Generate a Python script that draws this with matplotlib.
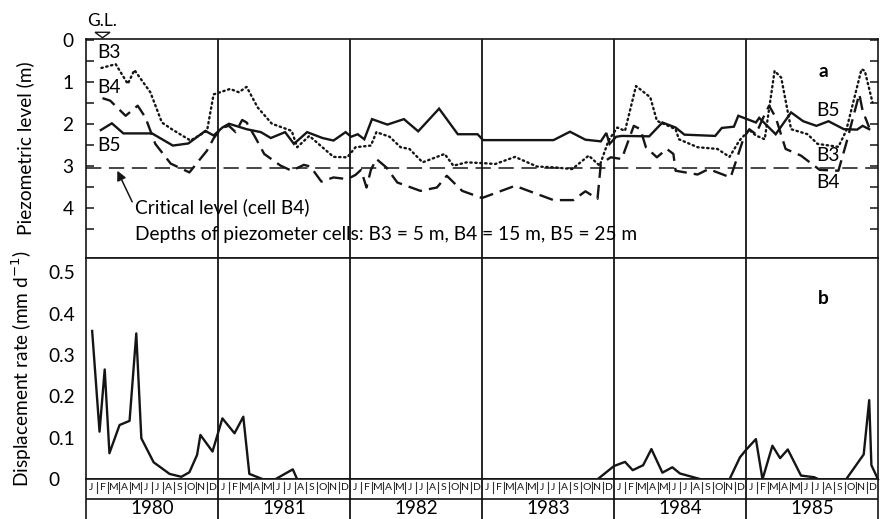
import numpy as np
import matplotlib
matplotlib.use('Agg')
from matplotlib import pyplot as plt

plt.rcParams['font.family'] = ['Lato', 'DejaVu Sans']
plt.rcParams['font.size'] = 13.8

# time axis: months since Jan 1980
years = [1980, 1981, 1982, 1983, 1984, 1985]
months = ['J', 'F', 'M', 'A', 'M', 'J', 'J', 'A', 'S', 'O', 'N', 'D']

# piezometric level (m below ground), cell B3
b3_t = [1.4, 2.7, 3.8, 4.4, 5.85, 6.9, 7.8, 9.5, 11.0, 11.6, 13.1, 13.9, 14.6, 15.6, 16.9,
        18.7, 19.2, 20.3, 22.5, 23.75, 24.5, 25.9, 26.4, 27.6, 28.6, 29.4, 30.6, 32.6, 33.4,
        34.6, 36.2, 37.2, 39.0, 41.0, 42.6, 44.2, 45.7, 46.7, 47.5, 48.3, 49.0, 50.0, 51.3,
        51.9, 53.6, 53.9, 55.6, 57.4, 58.5, 59.4, 60.3, 60.9, 61.7, 62.6, 63.2, 64.1, 65.6,
        66.5, 68.4, 69.1, 70.5, 70.8, 71.5]
b3_d = [0.67, 0.58, 1.05, 0.72, 1.25, 1.97, 2.13, 2.4, 2.17, 1.3, 1.17, 1.25, 1.12, 1.61, 2.0,
        2.17, 2.56, 2.29, 2.79, 2.8, 2.56, 2.52, 2.2, 2.31, 2.56, 2.6, 2.92, 2.72, 3.0,
        2.92, 2.94, 2.96, 2.79, 3.02, 3.04, 3.08, 2.76, 3.0, 2.4, 2.09, 2.17, 1.1, 1.37,
        1.93, 2.13, 2.37, 2.56, 2.6, 2.79, 2.4, 2.15, 2.28, 2.37, 0.74, 0.9, 2.13, 2.25,
        2.48, 2.55, 2.17, 0.7, 0.74, 1.49]

# cell B4
b4_t = [1.5, 2.2, 3.6, 4.7, 5.4, 6.3, 7.7, 9.4, 11.0, 11.6, 12.3, 13.0, 13.6, 14.2, 14.6,
        15.4, 16.2, 17.7, 18.7, 19.8, 20.4, 21.4, 22.5, 23.75, 24.5, 25.0, 25.5, 25.9, 26.4,
        27.3, 28.3, 30.4, 31.9, 32.8, 34.2, 36.0, 39.0, 42.5, 44.3, 45.4, 46.5, 46.8, 47.7,
        48.7, 49.8, 50.4, 50.9, 51.9, 52.8, 53.4, 53.6, 55.6, 56.6, 58.6, 59.8, 60.3, 60.9,
        61.5, 62.1, 62.7, 63.6, 65.0, 66.2, 66.7, 68.4, 69.1, 70.3, 70.6, 71.2]
b4_d = [1.39, 1.45, 1.81, 1.57, 1.85, 2.48, 2.95, 3.16, 2.64, 2.35, 2.1, 2.05, 2.2, 1.91, 1.97,
        2.33, 2.72, 3.0, 3.12, 2.98, 3.02, 3.38, 3.28, 3.32, 3.22, 3.1, 3.52, 3.1, 2.84,
        3.04, 3.4, 3.6, 3.52, 3.24, 3.6, 3.77, 3.48, 3.82, 3.82, 3.61, 3.79, 2.96, 2.8,
        2.84, 2.05, 2.13, 2.56, 2.8, 2.6, 2.72, 3.12, 3.21, 3.08, 3.28, 2.33, 2.13, 2.25,
        1.89, 1.57, 1.85, 2.6, 2.76, 3.0, 3.1, 3.12, 2.48, 1.29, 1.69, 2.09]

# cell B5
b5_t = [1.35, 2.35, 3.4, 6.0, 7.9, 9.3, 10.85, 11.6, 12.4, 13.0, 14.6, 15.9, 16.8, 18.1, 18.9,
        20.1, 21.5, 22.5, 23.6, 24.1, 24.7, 25.3, 26.0, 27.4, 28.9, 30.2, 32.1, 33.8, 35.6,
        36.1, 42.5, 44.0, 45.4, 46.8, 47.3, 47.6, 48.2, 48.7, 51.2, 52.4, 53.6, 54.4, 57.2,
        57.8, 58.9, 59.3, 60.0, 60.9, 61.2, 62.7, 64.1, 65.2, 66.4, 67.5, 68.9, 70.1, 70.6,
        71.2]
b5_d = [2.15, 1.99, 2.23, 2.23, 2.52, 2.47, 2.17, 2.28, 2.09, 2.0, 2.13, 2.2, 2.34, 2.2, 2.48,
        2.2, 2.34, 2.4, 2.2, 2.31, 2.25, 2.37, 1.89, 2.02, 1.89, 2.18, 1.64, 2.25, 2.25,
        2.39, 2.39, 2.19, 2.38, 2.42, 2.22, 2.48, 2.31, 2.29, 2.3, 1.97, 2.09, 2.26, 2.29,
        2.1, 2.07, 1.81, 1.88, 1.97, 1.86, 2.25, 1.73, 1.94, 2.05, 1.94, 2.13, 2.14, 2.05,
        2.13]

critical_level = 3.05

# displacement rate (mm/d)
rate_t = [0.56, 1.23, 1.7, 2.13, 3.05, 3.96, 4.57, 5.03, 6.15, 7.6, 8.67, 9.4, 10.1, 10.4,
          11.5, 12.4, 13.5, 14.3, 14.85, 16.1, 17.2, 18.8, 19.2, 46.5, 48.0, 49.0, 49.7,
          50.65, 51.4, 52.4, 53.3, 54.0, 55.9, 58.5, 59.45, 60.0, 60.9, 61.5, 62.4, 63.1,
          63.8, 65.0, 66.2, 66.6, 69.1, 70.7, 71.2, 71.4, 72.0]
rate_v = [0.358, 0.115, 0.265, 0.063, 0.131, 0.141, 0.352, 0.099, 0.041, 0.013, 0.006, 0.017,
          0.059, 0.107, 0.067, 0.147, 0.111, 0.151, 0.013, 0.0, 0.0, 0.024, 0.0, 0.0, 0.032,
          0.042, 0.022, 0.034, 0.073, 0.016, 0.029, 0.014, 0.0, 0.0, 0.053, 0.071, 0.097,
          0.0, 0.081, 0.051, 0.072, 0.009, 0.005, 0.0, 0.0, 0.06, 0.191, 0.034, 0.0]

INK = '#151515'
W, H = 882, 519
fig = plt.figure(figsize=(W / 100, H / 100), dpi=100)

x0, x1 = 86, 878
def box(top, bottom):
    return [x0 / W, 1 - bottom / H, (x1 - x0) / W, (bottom - top) / H]

ax_a = fig.add_axes(box(39, 258))
ax_b = fig.add_axes(box(258, 479.3))
ax_m = fig.add_axes(box(479.3, 519))

n_months = 12 * len(years)
for ax in (ax_a, ax_b, ax_m):
    ax.set_xlim(0, n_months)
    ax.set_xticks([])
    for s in ax.spines.values():
        s.set_linewidth(1.2)
        s.set_color(INK)
    for k in range(1, len(years)):
        ax.axvline(12 * k, color=INK, lw=1.3)

# ---- panel a: piezometric levels
ax_a.set_ylim(5.2, -0.02)
ax_a.plot(b5_t, b5_d, color=INK, lw=1.7, solid_joinstyle='miter')
ax_a.plot(b3_t, b3_d, color=INK, lw=1.7, ls=(0, (0.6, 1.5)), dash_capstyle='round')
ax_a.plot(b4_t, b4_d, color=INK, lw=1.7, ls=(0, (6, 3)))
ax_a.axhline(critical_level, color=INK, lw=1.1, ls=(0, (10, 5)))

ax_a.set_yticks([0, 1, 2, 3, 4])
ax_a.set_yticks(np.arange(0.5, 4.6, 1.0), minor=True)
ax_a.tick_params(axis='y', which='both', direction='in', length=6, width=1.1,
                 left=True, right=True, color=INK, labelsize=13.8, pad=9)
ax_a.set_ylabel('Piezometric level (m)', fontsize=13.8)
ax_a.yaxis.set_label_coords(-0.066, 0.5)

ax_a.text(1.05, 0.3, 'B3', va='center', ha='left')
ax_a.text(1.05, 1.14, 'B4', va='center', ha='left')
ax_a.text(1.05, 2.51, 'B5', va='center', ha='left')
ax_a.text(66.4, 1.69, 'B5', va='center', ha='left')
ax_a.text(66.4, 2.75, 'B3', va='center', ha='left')
ax_a.text(66.4, 3.39, 'B4', va='center', ha='left')
ax_a.text(67.0, 0.76, 'a', va='center', ha='center', fontweight='bold')

ax_a.annotate('Critical level (cell B4)', xy=(2.85, 3.12), xytext=(4.45, 4.0),
              va='center', ha='left',
              arrowprops=dict(arrowstyle='-|>', color=INK, lw=1.1,
                              shrinkA=0, shrinkB=0, mutation_scale=14,
                              relpos=(0, 0.5)))
ax_a.text(4.45, 4.64, 'Depths of piezometer cells: B3 = 5 m, B4 = 15 m, B5 = 25 m',
          va='center', ha='left')

# ground level marker
gl_x = 1.5
ax_a.fill([gl_x - 0.68, gl_x + 0.68, gl_x], [-0.18, -0.18, -0.05], facecolor='white',
          edgecolor=INK, lw=1.0, clip_on=False)
ax_a.text(gl_x, -0.44, 'G.L.', ha='center', va='center', fontsize=12.5)

# ---- panel b: displacement rate
ax_b.set_ylim(0, 0.534)
ax_b.plot(rate_t, rate_v, color=INK, lw=1.7, clip_on=False)
ax_b.set_yticks([0, 0.1, 0.2, 0.3, 0.4, 0.5])
ax_b.set_yticklabels(['0', '0.1', '0.2', '0.3', '0.4', '0.5'])
ax_b.tick_params(axis='y', length=0, labelsize=13.8, pad=27)
for lab in ax_b.get_yticklabels():
    lab.set_horizontalalignment('left')
ax_b.set_ylabel('Displacement rate (mm d$^{-1}$)', fontsize=13.8)
ax_b.yaxis.set_label_coords(-0.066, 0.5)
ax_b.text(67.0, 0.437, 'b', va='center', ha='center', fontweight='bold')

# ---- month / year strip
ax_m.set_ylim(0, 1)
ax_m.set_yticks([])
ax_m.spines['bottom'].set_visible(False)
ax_m.axhline(0.5, color=INK, lw=1.2)
for i in range(n_months):
    ax_m.text(i + 0.5, 0.8, months[i % 12], ha='center', va='center', fontsize=7.5,
              color=INK)
    if i % 12:
        ax_m.plot([i, i], [0.66, 0.93], color='#333333', lw=0.8)
for k, yr in enumerate(years):
    ax_m.text(12 * k + 6, 0.05, str(yr), ha='center', va='bottom', fontsize=13.5)

fig.savefig('out.png', dpi=100)
